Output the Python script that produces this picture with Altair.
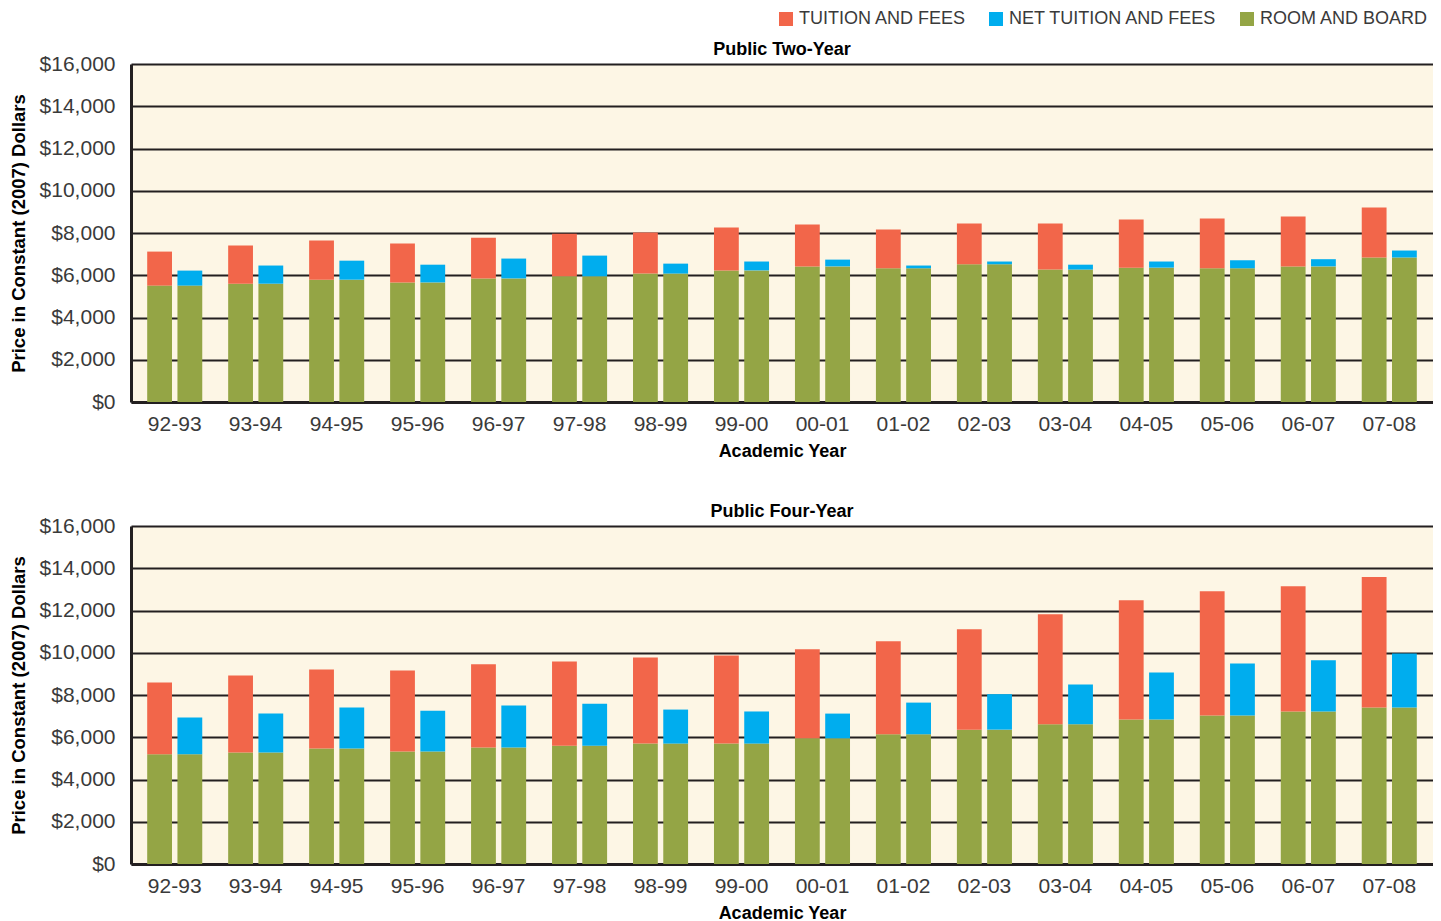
import altair as alt
import pandas as pd

years = ["92-93", "93-94", "94-95", "95-96", "96-97", "97-98", "98-99", "99-00",
         "00-01", "01-02", "02-03", "03-04", "04-05", "05-06", "06-07", "07-08"]

# Public Two-Year (constant 2007 dollars)
two_room = [5510, 5600, 5790, 5660, 5850, 5950, 6080, 6230,
            6420, 6330, 6520, 6270, 6360, 6330, 6420, 6840]
two_tuition = [1610, 1810, 1850, 1840, 1930, 2020, 1940, 2030,
               1980, 1830, 1930, 2180, 2280, 2360, 2360, 2370]
two_net = [710, 860, 900, 840, 940, 980, 470, 420,
           320, 130, 130, 230, 290, 380, 340, 330]

# Public Four-Year (constant 2007 dollars)
four_room = [5190, 5280, 5470, 5320, 5510, 5600, 5700, 5700,
             5950, 6140, 6360, 6610, 6840, 7030, 7220, 7410]
four_tuition = [3400, 3640, 3740, 3840, 3940, 3990, 4080, 4170,
                4210, 4400, 4750, 5210, 5640, 5880, 5930, 6170]
four_net = [1740, 1840, 1940, 1940, 1990, 1990, 1610, 1520,
            1170, 1500, 1680, 1890, 2230, 2460, 2420, 2560]

components = ["TUITION AND FEES", "NET TUITION AND FEES", "ROOM AND BOARD"]
colors = ["#f2664a", "#00adee", "#94a545"]

rows = []
for panel, room, tui, net in [("Public Two-Year", two_room, two_tuition, two_net),
                              ("Public Four-Year", four_room, four_tuition, four_net)]:
    for i, y in enumerate(years):
        rows.append(dict(panel=panel, year=y, bar="a", component="ROOM AND BOARD", order=0, value=room[i]))
        rows.append(dict(panel=panel, year=y, bar="a", component="TUITION AND FEES", order=1, value=tui[i]))
        rows.append(dict(panel=panel, year=y, bar="b", component="ROOM AND BOARD", order=0, value=room[i]))
        rows.append(dict(panel=panel, year=y, bar="b", component="NET TUITION AND FEES", order=1, value=net[i]))
df = pd.DataFrame(rows)

FONT = "Liberation Sans"
INK = "#231f20"


def panel_chart(name):
    return (
        alt.Chart(df)
        .transform_filter(alt.datum.panel == name)
        .transform_stack(stack="value", groupby=["year", "bar"],
                         sort=[alt.SortField("order", order="ascending")],
                         as_=["v0", "v1"])
        .mark_bar()
        .encode(
            x=alt.X("year:N", sort=years,
                    scale=alt.Scale(paddingInner=0.32, paddingOuter=0.2),
                    axis=alt.Axis(title="Academic Year", labelAngle=0, ticks=False,
                                  domain=True, domainColor=INK, domainWidth=3,
                                  labelFont=FONT, labelFontSize=21, labelColor="#3a3a3a",
                                  labelPadding=11, titleFont=FONT, titleFontSize=18,
                                  titleFontWeight="bold", titleColor="#000",
                                  titlePadding=8)),
            xOffset=alt.XOffset("bar:N", scale=alt.Scale(paddingInner=0.18)),
            y=alt.Y("v0:Q",
                    scale=alt.Scale(domain=[0, 16000], nice=False),
                    axis=alt.Axis(title="Price in Constant (2007) Dollars",
                                  values=list(range(0, 16001, 2000)), format="$,.0f",
                                  grid=True, gridColor=INK, gridWidth=2.2, gridOpacity=1,
                                  domain=True, domainColor=INK, domainWidth=3,
                                  ticks=False, labelFont=FONT, labelFontSize=21,
                                  labelColor="#3a3a3a", labelPadding=16,
                                  titleFont=FONT, titleFontSize=18.5, titleFontWeight="bold",
                                  titleColor="#000", titleX=-103)),
            y2="v1:Q",
            color=alt.Color("component:N",
                            scale=alt.Scale(domain=components, range=colors),
                            legend=alt.Legend(title=None, orient="none", direction="horizontal",
                                              legendX=646, legendY=-54,
                                              symbolType="square", symbolSize=196,
                                              symbolStrokeWidth=0, symbolOpacity=1,
                                              labelFont=FONT, labelFontSize=18,
                                              labelLimit=400,
                                              labelColor="#3a3a3a", columnPadding=20,
                                              labelOffset=4)),
        )
        .properties(width=1302, height=338,
                    title=alt.TitleParams(name, font=FONT, fontSize=18, fontWeight="bold",
                                          color="#000", anchor="middle", offset=4,
                                          frame="group", dy=10))
    )


chart = (
    alt.vconcat(panel_chart("Public Two-Year"), panel_chart("Public Four-Year"), spacing=43)
    .properties(padding={"left": 0, "top": 2, "right": 0, "bottom": 0})
    .configure_view(fill="#fdf6e5", stroke=None)
)

chart.save("out.html", embed_options={"renderer": "svg", "actions": False})
